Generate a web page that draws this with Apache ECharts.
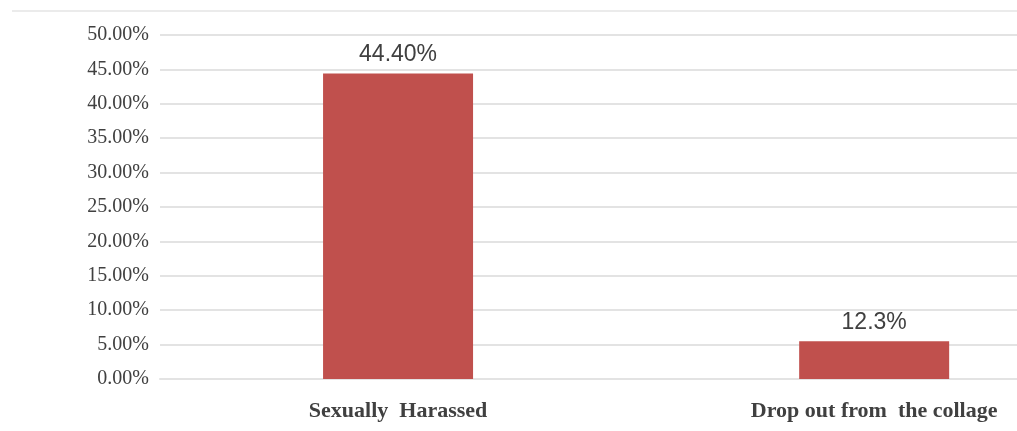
<!DOCTYPE html>
<html>
<head>
<meta charset="utf-8">
<script src="https://cdn.jsdelivr.net/npm/echarts@6/dist/echarts.min.js"></script>
<style>
html,body{margin:0;padding:0;background:#fff;}
#chart{width:1017px;height:431px;}
</style>
</head>
<body>
<div id="chart"></div>
<script>
var categories = ["Sexually  Harassed", "Drop out from  the collage"];
var barValues = [44.4, 5.5];
var barLabels = ["44.40%", "12.3%"];
var yTicks = [0, 5, 10, 15, 20, 25, 30, 35, 40, 45, 50];

// category slots on a numeric x scale (slot i centered at i + 0.5); the visible
// plot area shows 1.8 slots because the original picture is cropped on the right
var xMin = 0, xMax = 1.8;
var seriesData = barValues.map(function (v, i) { return [i + 0.5, v]; });

var chart = echarts.init(document.getElementById('chart'));
chart.setOption({
  animation: false,
  backgroundColor: '#fff',
  graphic: [{
    type: 'line',
    shape: {x1: 12, y1: 11, x2: 1017, y2: 11},
    style: {stroke: '#ebebeb', lineWidth: 2}
  }],
  grid: {left: 160, right: 0, top: 35, bottom: 52, containLabel: false},
  xAxis: {
    type: 'value',
    min: xMin,
    max: xMax,
    interval: 0.5,
    splitLine: {show: false},
    axisLine: {show: true, onZero: false, lineStyle: {color: '#e3e3e3', width: 2}},
    axisTick: {show: false},
    axisLabel: {
      margin: 21,
      showMaxLabel: false,
      color: '#404040',
      fontFamily: 'Liberation Serif',
      fontWeight: 'bold',
      fontSize: 22,
      formatter: function (v) {
        var i = Math.round(v - 0.5);
        return (Math.abs(v - 0.5 - i) < 1e-6 && categories[i]) ? categories[i] : '';
      }
    }
  },
  yAxis: {
    type: 'value',
    min: yTicks[0],
    max: yTicks[yTicks.length - 1],
    interval: 5,
    axisLine: {show: false},
    axisTick: {show: false},
    splitLine: {lineStyle: {color: '#e3e3e3', width: 2}},
    axisLabel: {
      margin: 11,
      color: '#404040',
      fontFamily: 'Liberation Serif',
      fontSize: 20,
      formatter: function (v) { return v.toFixed(2) + '%'; }
    }
  },
  series: [{
    type: 'bar',
    data: seriesData,
    barWidth: 150,
    itemStyle: {color: '#C0504D'},
    label: {
      show: true,
      position: 'top',
      distance: 7,
      color: '#404040',
      fontFamily: 'Liberation Sans',
      fontSize: 23,
      formatter: function (p) { return barLabels[p.dataIndex]; }
    }
  }]
});
</script>
</body>
</html>
